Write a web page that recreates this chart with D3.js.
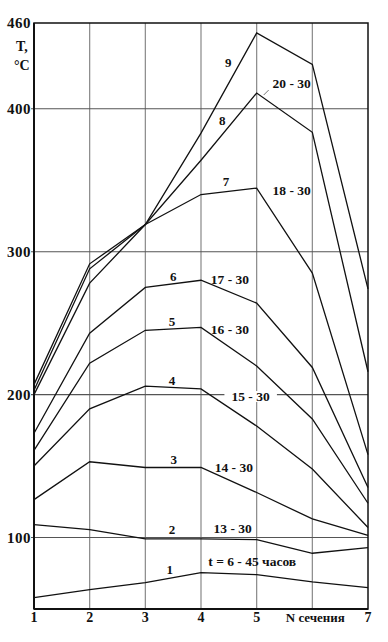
<!DOCTYPE html>
<html>
<head>
<meta charset="utf-8">
<script src="https://cdn.jsdelivr.net/npm/d3@7"></script>
<style>
  body { margin: 0; background: #fff; }
  svg { display: block; }
  text { font-family: "Liberation Serif", "DejaVu Serif", serif; font-weight: bold; fill: #111; }
</style>
</head>
<body>
<div id="chart"></div>
<script>
// номера сечений
const sections = [1, 2, 3, 4, 5, 6, 7];
const xTickLabels = ['1', '2', '3', '4', '5', '', '7'];
const yTicks = [100, 200, 300, 400, 460];

// температура по сечениям, кривые 1..9
const curve1 = [58, 63.5, 68.5, 75.5, 74, 69, 65];
const curve2 = [109, 105.5, 99, 99, 98.5, 89, 93];
const curve3 = [126.5, 153, 149, 149, 131.5, 113, 101.5];
const curve4 = [150, 190, 206, 204, 178, 148, 107];
const curve5 = [161, 222, 245, 247, 220, 183, 124];
const curve6 = [173, 243, 275, 280, 264, 219, 135];
const curve7 = [207, 291.5, 319, 340, 344.5, 285, 158];
const curve8 = [203, 288, 319, 364, 411, 383.5, 216];
const curve9 = [200, 278, 319, 383, 453, 431, 274];

const curveNames = ['1', '2', '3', '4', '5', '6', '7', '8', '9'];
const timeLabels = ['t = 6 - 45 часов', '13 - 30', '14 - 30', '15 - 30', '16 - 30', '17 - 30', '18 - 30', '20 - 30', ''];

const width = 388, height = 642;
const margin = { top: 23, right: 20, bottom: 33, left: 34 };

const svg = d3.select('#chart').append('svg')
    .attr('width', width)
    .attr('height', height);

const x = d3.scaleLinear()
    .domain([1, 7])
    .range([margin.left, width - margin.right]);
const y = d3.scaleLinear()
    .domain([50, 460])
    .range([height - margin.bottom, margin.top]);

// сетка
svg.append('g')
    .selectAll('line')
    .data(sections.slice(1, 6))
    .enter().append('line')
    .attr('x1', d => x(d)).attr('x2', d => x(d))
    .attr('y1', y(460)).attr('y2', y(50))
    .attr('stroke', '#888').attr('stroke-width', 1.2);

svg.append('g')
    .selectAll('line')
    .data([100, 200, 300, 400])
    .enter().append('line')
    .attr('x1', x(1) - 3).attr('x2', x(7))
    .attr('y1', d => y(d)).attr('y2', d => y(d))
    .attr('stroke', '#555').attr('stroke-width', 1.1);

// рамка
svg.append('rect')
    .attr('x', x(1)).attr('y', y(460))
    .attr('width', x(7) - x(1)).attr('height', y(50) - y(460))
    .attr('fill', 'none').attr('stroke', '#111').attr('stroke-width', 1.5);
svg.append('line')
    .attr('x1', x(1)).attr('x2', x(1)).attr('y1', y(460)).attr('y2', y(50))
    .attr('stroke', '#111').attr('stroke-width', 2);
svg.append('line')
    .attr('x1', x(1)).attr('x2', x(7)).attr('y1', y(50)).attr('y2', y(50))
    .attr('stroke', '#111').attr('stroke-width', 2);

// подписи осей
svg.append('g')
    .selectAll('text')
    .data(yTicks)
    .enter().append('text')
    .attr('x', x(1) - 3)
    .attr('y', d => y(d) + 5)
    .attr('text-anchor', 'end')
    .style('font-size', '15px')
    .style('letter-spacing', '0.5px')
    .text(d => d);

svg.append('g')
    .selectAll('text')
    .data(sections)
    .enter().append('text')
    .attr('x', d => x(d))
    .attr('y', height - 20)
    .attr('text-anchor', 'middle')
    .style('font-size', '14px')
    .text((d, i) => xTickLabels[i]);

svg.append('text')
    .attr('x', (x(5) + x(7)) / 2 + 3)
    .attr('y', height - 20)
    .attr('text-anchor', 'middle')
    .style('font-size', '13px')
    .text('N сечения');

svg.append('text').attr('x', 16).attr('y', 51).style('font-size', '14px').text('T,');
svg.append('text').attr('x', 14).attr('y', 70).style('font-size', '14px').text('°C');

// кривые
const series = [curve1, curve2, curve3, curve4, curve5, curve6, curve7, curve8, curve9];
const line = d3.line()
    .x((d, i) => x(sections[i]))
    .y(d => y(d));

svg.append('g')
    .selectAll('path')
    .data(series)
    .enter().append('path')
    .attr('d', line)
    .attr('fill', 'none')
    .attr('stroke', '#111')
    .attr('stroke-width', 1.3);

// номера кривых: положение (сечение, температура)
const numX = [3.44, 3.48, 3.51, 3.48, 3.48, 3.5, 4.45, 4.38, 4.49];
const numV = [78, 106, 155, 210, 251.5, 283, 349.5, 392, 433];
svg.append('g')
    .selectAll('text')
    .data(curveNames)
    .enter().append('text')
    .attr('x', (d, i) => x(numX[i]))
    .attr('y', (d, i) => y(numV[i]) + 5)
    .attr('text-anchor', 'middle')
    .style('font-size', '13px')
    .text(d => d);

// подписи времени
const timeX = [4.92, 4.57, 4.59, 4.89, 4.52, 4.52, 5.63, 5.63, 0];
const timeV = [83.6, 106.7, 149.4, 199, 246, 281, 343, 418, 0];
const labels = svg.append('g');
timeLabels.forEach((t, i) => {
    if (!t) return;
    const g = labels.append('g');
    const tx = g.append('text')
        .attr('x', x(timeX[i]))
        .attr('y', y(timeV[i]) + 5)
        .attr('text-anchor', 'middle')
        .style('font-size', '13.5px')
        .text(t);
    if (i === 3) {
        const b = tx.node().getBBox();
        g.insert('rect', 'text')
            .attr('x', b.x - 7).attr('y', b.y + 2)
            .attr('width', b.width + 14).attr('height', b.height - 4)
            .attr('fill', '#fff');
    }
});

// выноска к 20 - 30
svg.append('line')
    .attr('x1', x(5) + 7).attr('y1', y(411) + 2)
    .attr('x2', x(5) + 12).attr('y2', y(411) - 3)
    .attr('stroke', '#777').attr('stroke-width', 1);
</script>
</body>
</html>
